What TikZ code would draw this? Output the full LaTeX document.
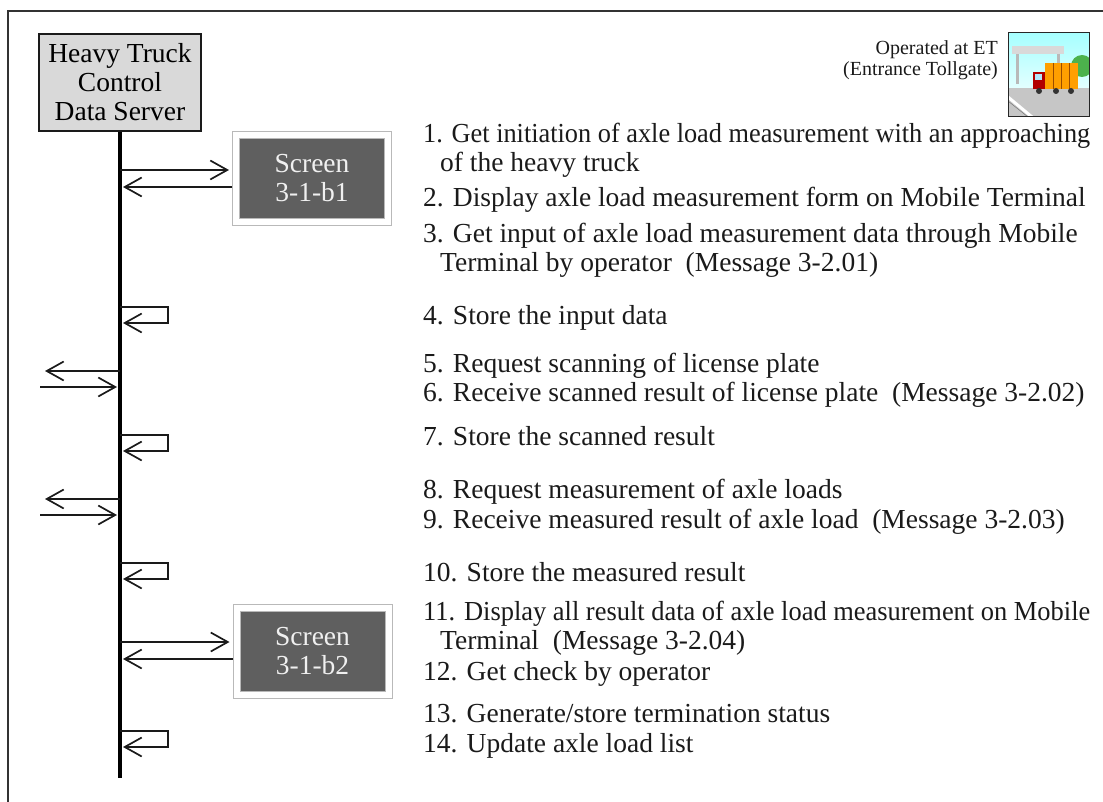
\documentclass[tikz,border=0pt]{standalone}
\usepackage{graphicx}
\usepackage{fontspec}
\setmainfont{Liberation Serif}
\usetikzlibrary{arrows.meta,positioning}

\definecolor{framegray}{HTML}{333333}
\definecolor{boxgray}{HTML}{D9D9D9}
\definecolor{screengray}{HTML}{5F5F5F}
\definecolor{inkgray}{HTML}{1A1A1A}

\tikzset{
  msg/.style={draw=inkgray, line width=1.7pt, -{Straight Barb[length=17pt,width=19pt]}},
  life/.style={draw=black, line width=3.5pt},
  server/.style={draw=inkgray, line width=1.5pt, fill=boxgray, align=center,
    minimum width=162pt, minimum height=97pt, inner sep=0pt},
  screen/.style={fill=screengray, draw=gray!55, double=white, double distance=6pt,
    line width=1pt, minimum width=152pt, minimum height=87pt, align=center,
    text=white!94!black, outer sep=4pt},
  item/.style={anchor=base west, inner sep=0pt, text=inkgray},
  note/.style={anchor=base east, inner sep=0pt, text=inkgray, font=\fontsize{20}{21}\selectfont}
}
% long step lines are squeezed to the column width
\newcommand{\fitline}[1]{\resizebox{667pt}{\height}{#1}}

\begin{document}
\begin{tikzpicture}[x=1pt, y=-1pt, font=\fontsize{27.5}{29}\selectfont]
  \useasboundingbox (0,0) rectangle (1103,802);
  \draw[draw=framegray, line width=2pt] (8,806) -- (8,11) -- (1106,11);

  % server and its lifeline
  \node[server] (srv) at (120,82.5) {Heavy Truck\\Control\\Data Server};
  \coordinate (bottom) at (120,778);
  \draw[life] (srv.south) -- (bottom);

  % screens
  \node[screen] (scr1) at (312,178.5) {Screen\\3-1-b1};
  \node[screen] (scr2) at (312.5,651) {Screen\\3-1-b2};

  % terminal picture
  \begin{scope}
    \clip (1008,33) rectangle (1089,117);
    \shade[top color=cyan!35, bottom color=cyan!8] (1008,33) rectangle (1089,95);
    \fill[green!40!gray] (1082,66) circle (11);
    \fill[gray!30] (1012,46) rectangle (1064,54);
    \fill[gray!55] (1016,54) rectangle (1019,84);
    \fill[gray!55] (1057,54) rectangle (1060,66);
    \fill[gray!45] (1008,88) rectangle (1089,117);
    \fill[orange!75!yellow] (1045,63) rectangle (1078,89);
    \draw[orange!60!black, line width=0.6pt] (1053,63) -- (1053,89) (1061,63) -- (1061,89) (1069,63) -- (1069,89);
    \fill[red!70!black] (1033,72) rectangle (1045,89);
    \fill[cyan!30] (1035,74) rectangle (1042,80);
    \fill[black!80] (1039,91) circle (3) (1056,91) circle (3) (1071,91) circle (3);
    \draw[white, line width=3pt] (1008,97) -- (1032,117);
    \draw[gray, line width=0.6pt] (1008,101) -- (1028,117);
  \end{scope}
  \node[draw=black!85, line width=1pt, minimum width=81pt, minimum height=84pt, inner sep=0pt] (et) at (1048.5,75) {};
  \node[note] (op1) at (998,55) {Operated at ET};
  \node[note] (op2) at (998,76) {(Entrance Tollgate)};

  % steps
  \node[item] (t1) at (423,143) {\fitline{1. Get initiation of axle load measurement with an approaching}};
  \node[item] (t1b) at (440,172) {of the heavy truck};
  \node[item] (t2) at (423,207) {2. Display axle load measurement form on Mobile Terminal};
  \node[item] (t3) at (423,243) {3. Get input of axle load measurement data through Mobile};
  \node[item] (t3b) at (440,272) {Terminal by operator~ (Message 3-2.01)};
  \node[item] (t4) at (423,324) {4. Store the input data};
  \node[item] (t5) at (423,372) {5. Request scanning of license plate};
  \node[item] (t6) at (423,401) {6. Receive scanned result of license plate~ (Message 3-2.02)};
  \node[item] (t7) at (423,445) {7. Store the scanned result};
  \node[item] (t8) at (423,498) {8. Request measurement of axle loads};
  \node[item] (t9) at (423,528) {9. Receive measured result of axle load~ (Message 3-2.03)};
  \node[item] (t10) at (423,581) {10. Store the measured result};
  \node[item] (t11) at (423,620) {\fitline{11. Display all result data of axle load measurement on Mobile}};
  \node[item] (t11b) at (440,649) {Terminal~ (Message 3-2.04)};
  \node[item] (t12) at (423,680) {12. Get check by operator};
  \node[item] (t13) at (423,722) {13. Generate/store termination status};
  \node[item] (t14) at (423,752) {14. Update axle load list};

  % messages 1-3
  \coordinate (m1) at (120,170);
  \coordinate (m2) at (123,187);
  \draw[msg, shorten >=3pt] (m1) -- (m1 -| scr1.west);
  \draw[msg] (scr1.west |- m2) -- (m2);
  % 4
  \coordinate (s4) at (120,307);
  \coordinate (s4e) at (123,323);
  \draw[msg] (s4) -- ++(48,0) |- (s4e);
  % 5, 6
  \coordinate (o5) at (120,371);
  \coordinate (o5e) at (45,371);
  \coordinate (i6) at (40,387);
  \coordinate (i6e) at (117,387);
  \draw[msg] (o5) -- (o5e);
  \draw[msg] (i6) -- (i6e);
  % 7
  \coordinate (s7) at (120,435);
  \coordinate (s7e) at (123,451);
  \draw[msg] (s7) -- ++(48,0) |- (s7e);
  % 8, 9
  \coordinate (o8) at (120,499);
  \coordinate (o8e) at (45,499);
  \coordinate (i9) at (40,515);
  \coordinate (i9e) at (117,515);
  \draw[msg] (o8) -- (o8e);
  \draw[msg] (i9) -- (i9e);
  % 10
  \coordinate (s10) at (120,563);
  \coordinate (s10e) at (123,579);
  \draw[msg] (s10) -- ++(48,0) |- (s10e);
  % 11, 12
  \coordinate (m11) at (120,642);
  \coordinate (m12) at (123,659);
  \draw[msg, shorten >=3pt] (m11) -- (m11 -| scr2.west);
  \draw[msg] (scr2.west |- m12) -- (m12);
  % 13, 14
  \coordinate (s13) at (120,731);
  \coordinate (s13e) at (123,747);
  \draw[msg] (s13) -- ++(48,0) |- (s13e);
\end{tikzpicture}
\end{document}
